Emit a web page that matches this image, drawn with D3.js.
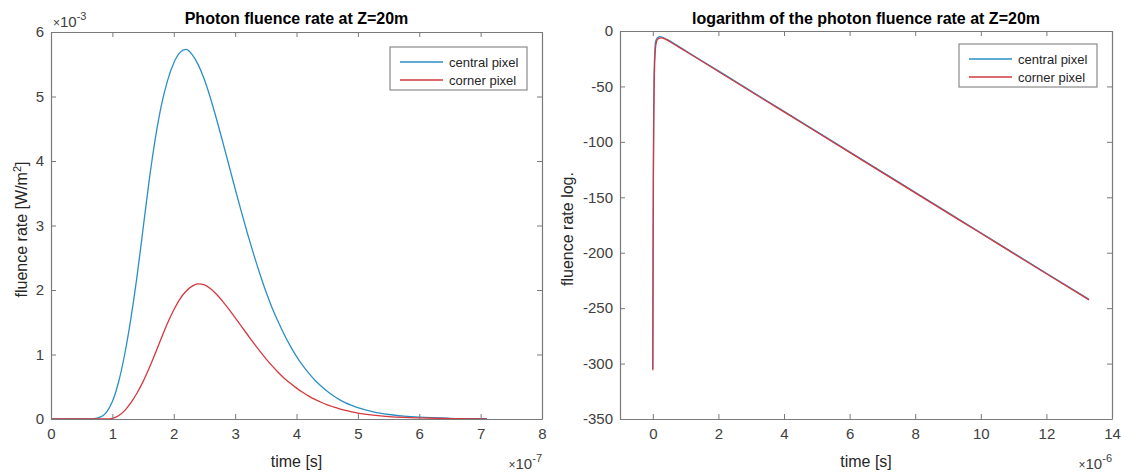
<!DOCTYPE html>
<html>
<head>
<meta charset="utf-8">
<script src="https://cdn.jsdelivr.net/npm/d3@7"></script>
<style>
  html, body { margin: 0; padding: 0; background: #fff; }
  svg { display: block; font-family: "Liberation Sans", Arial, sans-serif; }
</style>
</head>
<body>
<svg id="chart" width="1121" height="475"></svg>
<script>
// ---------- Data (left panel: time in 1e-7 s, fluence in 1e-3 W/m^2) ----------
const timeCentral = [0, 0.6, 0.7, 0.8, 0.9, 1.0, 1.1, 1.2, 1.3, 1.4, 1.5, 1.6, 1.7, 1.8, 1.9, 2.0, 2.1, 2.2, 2.3, 2.4, 2.5, 2.6, 2.7, 2.8, 2.9, 3.0, 3.1, 3.2, 3.3, 3.4, 3.5, 3.6, 3.7, 3.8, 3.9, 4.0, 4.1, 4.2, 4.3, 4.4, 4.5, 4.6, 4.7, 4.8, 4.9, 5.0, 5.25, 5.5, 5.75, 6.0, 6.5, 7.0, 7.1];
const fluenceCentral = [0, 0, 0.004, 0.028, 0.1, 0.27, 0.57, 1.0, 1.55, 2.2, 2.95, 3.7, 4.35, 4.87, 5.25, 5.52, 5.68, 5.73, 5.65, 5.49, 5.26, 4.97, 4.64, 4.29, 3.93, 3.57, 3.22, 2.88, 2.56, 2.26, 1.98, 1.73, 1.51, 1.31, 1.13, 0.97, 0.83, 0.71, 0.6, 0.51, 0.43, 0.36, 0.3, 0.25, 0.21, 0.175, 0.11, 0.07, 0.045, 0.028, 0.011, 0.0045, 0.004];
const timeCorner = [0, 0.9, 1.0, 1.1, 1.2, 1.3, 1.4, 1.5, 1.6, 1.7, 1.8, 1.9, 2.0, 2.1, 2.2, 2.3, 2.4, 2.5, 2.6, 2.7, 2.8, 2.9, 3.0, 3.1, 3.2, 3.3, 3.4, 3.5, 3.6, 3.7, 3.8, 3.9, 4.0, 4.1, 4.2, 4.3, 4.4, 4.5, 4.6, 4.7, 4.8, 4.9, 5.0, 5.25, 5.5, 5.75, 6.0, 6.5, 7.0, 7.1];
const fluenceCorner = [0, 0, 0.01, 0.05, 0.13, 0.25, 0.4, 0.58, 0.79, 1.02, 1.26, 1.49, 1.69, 1.86, 1.98, 2.06, 2.095, 2.08, 2.02, 1.93, 1.82, 1.7, 1.57, 1.44, 1.31, 1.18, 1.055, 0.937, 0.827, 0.725, 0.633, 0.553, 0.479, 0.414, 0.355, 0.304, 0.26, 0.22, 0.187, 0.157, 0.132, 0.11, 0.092, 0.06, 0.038, 0.024, 0.016, 0.0065, 0.0027, 0.0022];

// ---------- Data (right panel: time in 1e-6 s, natural log of fluence) ----------
const logTimeCentral = [0, 0.01, 0.02, 0.03, 0.04, 0.06, 0.08, 0.1, 0.13, 0.17, 0.217, 0.3, 0.4, 0.5, 0.6, 0.7, 1.0, 2, 4, 6, 8, 10, 12, 13.3];
const logCentral = [-305, -180, -105, -65, -40, -20, -10.5, -8.2, -6.47, -5.44, -5.16, -5.64, -7.2, -8.65, -10.4, -12.3, -17.8, -36, -72.5, -109, -145.5, -182, -218.5, -242];
const logTimeCorner = [0, 0.01, 0.02, 0.03, 0.04, 0.06, 0.08, 0.1, 0.13, 0.17, 0.24, 0.3, 0.4, 0.5, 0.6, 0.7, 1.0, 2, 4, 6, 8, 10, 12, 13.3];
const logCorner = [-306, -200, -125, -80, -52, -27, -16, -11.5, -8.3, -6.89, -6.17, -6.4, -7.52, -9.3, -11.1, -12.9, -18.3, -36.5, -73, -109.5, -146, -182.5, -219, -242.5];

// ---------- Tick labels ----------
const leftXTicks = [0, 1, 2, 3, 4, 5, 6, 7, 8];
const leftYTicks = [0, 1, 2, 3, 4, 5, 6];
const rightXTicks = [0, 2, 4, 6, 8, 10, 12, 14];
const rightYTicks = [-350, -300, -250, -200, -150, -100, -50, 0];

const seriesNames = ["central pixel", "corner pixel"];
const seriesColors = ["#2b8fc6", "#d5383e"];

const svg = d3.select("#chart");
svg.append("rect").attr("width", 1121).attr("height", 475).attr("fill", "#fff");

const AXIS_COLOR = "#7a7a7a";
const LABEL_COLOR = "#404040";
const plainNum = d => String(d);

function zip(xs, ys) { return xs.map((x, i) => ({x, y: ys[i]})); }

function drawPanel(cfg) {
  const x = d3.scaleLinear().domain(cfg.xDomain).range([cfg.left, cfg.right]);
  const y = d3.scaleLinear().domain(cfg.yDomain).range([cfg.bottom, cfg.top]);
  const g = svg.append("g");

  const clipId = "clip" + cfg.id;
  svg.append("clipPath").attr("id", clipId).append("rect")
    .attr("x", cfg.left).attr("y", cfg.top)
    .attr("width", cfg.right - cfg.left).attr("height", cfg.bottom - cfg.top);
  const line = d3.line().x(d => x(d.x)).y(d => y(d.y)).curve(d3.curveMonotoneX);
  const lg = g.append("g").attr("clip-path", `url(#${clipId})`);
  cfg.series.forEach((s, i) => {
    lg.append("path").datum(s).attr("d", line)
      .attr("fill", "none").attr("stroke", seriesColors[i])
      .attr("stroke-width", 1.3).attr("stroke-linejoin", "round");
  });

  const axB = d3.axisBottom(x).tickValues(cfg.xTicks).tickSizeInner(-5).tickSizeOuter(0).tickPadding(9).tickFormat(plainNum);
  const axT = d3.axisTop(x).tickValues(cfg.xTicks).tickSizeInner(-5).tickSizeOuter(0).tickFormat("");
  const axL = d3.axisLeft(y).tickValues(cfg.yTicks).tickSizeInner(-5).tickSizeOuter(0).tickPadding(7).tickFormat(plainNum);
  const axR = d3.axisRight(y).tickValues(cfg.yTicks).tickSizeInner(-5).tickSizeOuter(0).tickFormat("");

  const addAxis = (ax, tr) => {
    const a = g.append("g").attr("transform", tr).call(ax);
    a.select(".domain").attr("stroke", AXIS_COLOR).attr("stroke-width", 1.2);
    a.selectAll(".tick line").attr("stroke", AXIS_COLOR);
    a.selectAll(".tick text").attr("fill", LABEL_COLOR)
      .attr("font-size", 15).attr("font-family", "Liberation Sans, Arial, sans-serif");
    return a;
  };
  addAxis(axB, `translate(0,${cfg.bottom})`);
  addAxis(axT, `translate(0,${cfg.top})`);
  addAxis(axL, `translate(${cfg.left},0)`);
  addAxis(axR, `translate(${cfg.right},0)`);

  g.append("text").attr("x", (cfg.left + cfg.right) / 2).attr("y", 24)
    .attr("text-anchor", "middle").attr("font-weight", "bold").attr("font-size", 16)
    .attr("fill", "#000").text(cfg.title);

  g.append("text").attr("x", (cfg.left + cfg.right) / 2).attr("y", 467)
    .attr("text-anchor", "middle").attr("font-size", 16).attr("fill", "#262626").text("time [s]");

  const xe = g.append("text").attr("x", cfg.right).attr("y", 469)
    .attr("text-anchor", "end").attr("font-size", 15).attr("fill", LABEL_COLOR);
  xe.append("tspan").attr("font-size", 12).text("\u00d7");
  xe.append("tspan").text("10");
  xe.append("tspan").attr("dy", -7).attr("font-size", 11).text(cfg.xExp);

  if (cfg.yExp) {
    const ye = g.append("text").attr("x", cfg.left + 2).attr("y", 27)
      .attr("font-size", 15).attr("fill", LABEL_COLOR);
    ye.append("tspan").attr("font-size", 12).text("\u00d7");
    ye.append("tspan").text("10");
    ye.append("tspan").attr("dy", -7).attr("font-size", 11).text(cfg.yExp);
  }

  const yl = g.append("text")
    .attr("transform", `translate(${cfg.yLabelX},${(cfg.top + cfg.bottom) / 2 + 4}) rotate(-90)`)
    .attr("text-anchor", "middle").attr("font-size", 16).attr("fill", "#262626");
  cfg.yLabel(yl);

  const L = cfg.legend;
  g.append("rect").attr("x", L.x).attr("y", L.y).attr("width", L.w).attr("height", L.h)
    .attr("fill", "#fff").attr("stroke", "#8a8a8a").attr("stroke-width", 1.2);
  seriesNames.forEach((name, i) => {
    const ry = L.y + 15 + i * 18;
    g.append("line").attr("x1", L.x + 10).attr("x2", L.x + 53).attr("y1", ry).attr("y2", ry)
      .attr("stroke", seriesColors[i]).attr("stroke-width", 1.3);
    g.append("text").attr("x", L.x + 59).attr("y", ry + 4.5).attr("font-size", 13)
      .attr("fill", "#262626").text(name);
  });
}

drawPanel({
  id: "L",
  left: 51, right: 542, top: 32, bottom: 419,
  xDomain: [0, 8], yDomain: [0, 6],
  xTicks: leftXTicks, yTicks: leftYTicks,
  series: [zip(timeCentral, fluenceCentral), zip(timeCorner, fluenceCorner)],
  title: "Photon fluence rate at Z=20m",
  xExp: "-7", yExp: "-3",
  yLabelX: 27,
  yLabel: t => {
    t.append("tspan").text("fluence rate [W/m");
    t.append("tspan").attr("dy", -6).attr("font-size", 11).text("2");
    t.append("tspan").attr("dy", 6).text("]");
  },
  legend: {x: 390, y: 47, w: 137, h: 43}
});

drawPanel({
  id: "R",
  left: 620, right: 1112, top: 31, bottom: 419,
  xDomain: [-1, 14], yDomain: [-350, 0],
  xTicks: rightXTicks, yTicks: rightYTicks,
  series: [zip(logTimeCentral, logCentral), zip(logTimeCorner, logCorner)],
  title: "logarithm of the photon fluence rate at Z=20m",
  xExp: "-6", yExp: null,
  yLabelX: 573,
  yLabel: t => { t.text("fluence rate log."); },
  legend: {x: 959, y: 44, w: 138, h: 43}
});
</script>
</body>
</html>
